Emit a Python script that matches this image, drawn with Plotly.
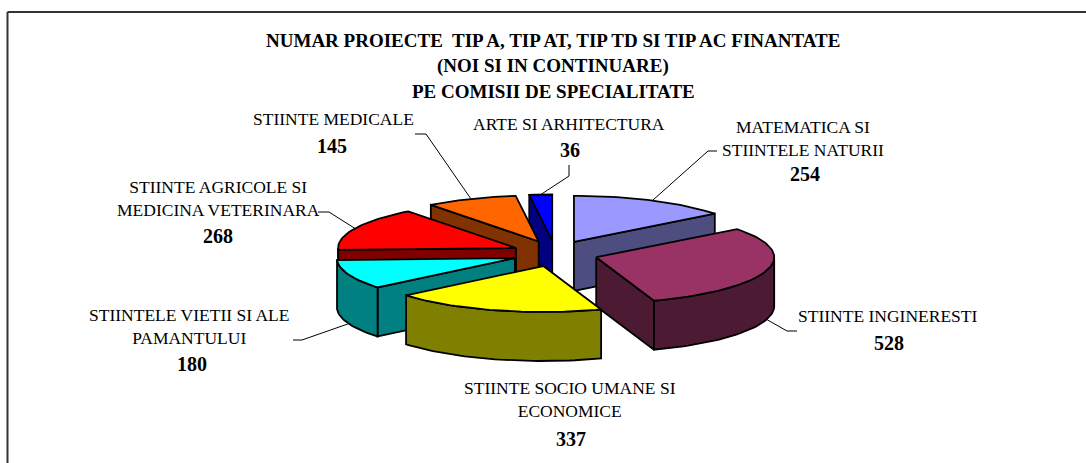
import math
import plotly.graph_objects as go

categories = ["MATEMATICA SI<br>STIINTELE NATURII", "STIINTE INGINERESTI",
              "STIINTE SOCIO UMANE SI<br>ECONOMICE", "STIINTELE VIETII SI ALE<br>PAMANTULUI",
              "STIINTE AGRICOLE SI<br>MEDICINA VETERINARA", "STIINTE MEDICALE", "ARTE SI ARHITECTURA"]
values = [254, 528, 337, 180, 268, 145, 36]
top_colors = ["#9999FF", "#993366", "#FFFF00", "#00FFFF", "#FF0000", "#FF6600", "#0000FF"]
side_colors = ["#4D4D80", "#4D1A33", "#808000", "#008080", "#800000", "#803300", "#000080"]
title_lines = ["NUMAR PROIECTE  TIP A, TIP AT, TIP TD SI TIP AC FINANTATE",
               "(NOI SI IN CONTINUARE)", "PE COMISII DE SPECIALITATE"]
title_y = [40, 66, 91]
label_x = [803, 888, 570, 189, 218, 333, 569]
value_x = [805, 889, 571, 192, 218, 332, 570]
label_y = [127, 316, 388, 315, 187, 119, 124]
value_y = [174, 343, 439, 364, 236, 146, 150]
elbows = [[(708, 151), (717, 151)], [(787, 331), (797, 331)], None, [(302, 340), (293, 340)],
          [(329, 212), (318, 212)], [(426, 134), (415, 134)], [(569, 176), (569, 165)]]
order = [6, 5, 0, 4, 3, 1, 2]

CX, CY, RX, RY, DEPTH, PULL_X, PULL_Y = 555, 253.5, 178, 46, 49, 43, 13
total = sum(values)
starts = [sum(values[:i]) / total * 2 * math.pi for i in range(len(values))]
ends = [sum(values[:i + 1]) / total * 2 * math.pi for i in range(len(values))]


def rim(a, apex, dy=0):
    return apex[0] + RX * math.sin(a), apex[1] - RY * math.cos(a) + dy


def arc(a0, a1, apex, dy=0):
    n = max(2, int((a1 - a0) / 0.03))
    return [rim(a0 + (a1 - a0) * k / n, apex, dy) for k in range(n + 1)]


fig = go.Figure()


def poly(points, fill):
    fig.add_trace(go.Scatter(x=[p[0] for p in points] + [points[0][0]],
                             y=[p[1] for p in points] + [points[0][1]],
                             mode="lines", fill="toself", fillcolor=fill,
                             line=dict(color="black", width=1.8), hoverinfo="skip", showlegend=False))


for i in order:
    a0, a1 = starts[i], ends[i]
    mid = (a0 + a1) / 2
    apex = (CX + PULL_X * math.sin(mid), CY - PULL_Y * math.cos(mid))
    low = (apex[0], apex[1] + DEPTH)
    if math.sin(a0) < 0:
        s, sl = rim(a0, apex), rim(a0, apex, DEPTH)
        poly([apex, s, sl, low], side_colors[i])
    if math.sin(a1) > 0:
        e, el = rim(a1, apex), rim(a1, apex, DEPTH)
        poly([apex, e, el, low], side_colors[i])
    w0, w1 = max(a0, math.pi / 2), min(a1, 3 * math.pi / 2)
    if w1 > w0:
        poly(arc(w0, w1, apex) + arc(w0, w1, apex, DEPTH)[::-1], side_colors[i])
    poly([apex] + arc(a0, a1, apex), top_colors[i])

for i, el in enumerate(elbows):
    if not el:
        continue
    mid = (starts[i] + ends[i]) / 2
    apex = (CX + PULL_X * math.sin(mid), CY - PULL_Y * math.cos(mid))
    base = rim(mid, apex, DEPTH if math.cos(mid) < 0 else 0)
    pts = [base] + el
    fig.add_trace(go.Scatter(x=[p[0] for p in pts], y=[p[1] for p in pts], mode="lines",
                             line=dict(color="black", width=1), hoverinfo="skip", showlegend=False))

ann = []
SERIF = "Liberation Serif"
for line, y in zip(title_lines, title_y):
    ann.append(dict(x=553, y=y, text=f"<b>{line}</b>", font=dict(family=SERIF, size=19, color="black")))
for i, cat in enumerate(categories):
    ann.append(dict(x=label_x[i], y=label_y[i] + (11.5 if "<br>" in cat else 0), text=cat,
                    font=dict(family=SERIF, size=17.5, color="black")))
    ann.append(dict(x=value_x[i], y=value_y[i], text=f"<b>{values[i]}</b>",
                    font=dict(family=SERIF, size=20, color="black")))
for a in ann:
    a.update(xref="x", yref="y", showarrow=False, xanchor="center", yanchor="middle")

frame = dict(color="#333333", width=2)
fig.update_layout(
    width=1086, height=463, margin=dict(l=0, r=0, t=0, b=0), paper_bgcolor="white", plot_bgcolor="white",
    xaxis=dict(range=[0, 1086], visible=False, fixedrange=True),
    yaxis=dict(range=[463, 0], visible=False, fixedrange=True),
    annotations=ann, showlegend=False,
    shapes=[dict(type="line", x0=7.5, x1=1086, y0=12, y1=12, line=frame),
            dict(type="line", x0=7.5, x1=7.5, y0=12, y1=463, line=frame)],
)
fig.write_html("out.html", config=dict(displayModeBar=False),
               post_script="document.body.style.margin='0';document.body.style.overflow='hidden';")
